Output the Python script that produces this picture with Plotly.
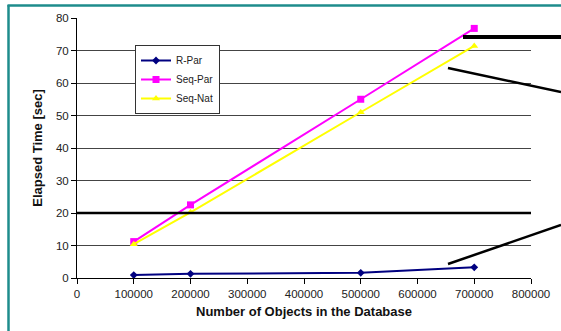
import plotly.graph_objects as go

objects = [100000, 200000, 500000, 700000]
r_par = [0.9, 1.3, 1.6, 3.3]
seq_par = [11.2, 22.5, 55.0, 76.8]
seq_nat = [10.4, 20.2, 51.0, 71.4]

x_ticks = [0, 100000, 200000, 300000, 400000, 500000, 600000, 700000, 800000]
x_tick_labels = [str(v) for v in x_ticks]
y_ticks = [0, 10, 20, 30, 40, 50, 60, 70, 80]

W, H = 561, 331
L, R, T, B = 77, 30, 18, 53
PW, PH = W - L - R, H - T - B


def px(x):
    return (x - L) / PW


def py(y):
    return (H - B - y) / PH


fig = go.Figure()
fig.add_trace(go.Scatter(x=objects, y=r_par, name="R-Par", mode="lines+markers",
                         line=dict(color="#000080", width=2),
                         marker=dict(symbol="diamond", size=6, color="#000080")))
fig.add_trace(go.Scatter(x=objects, y=seq_par, name="Seq-Par", mode="lines+markers",
                         line=dict(color="#FF00FF", width=2),
                         marker=dict(symbol="square", size=7, color="#FF00FF")))
fig.add_trace(go.Scatter(x=objects, y=seq_nat, name="Seq-Nat", mode="lines+markers",
                         line=dict(color="#FFFF00", width=2),
                         marker=dict(symbol="triangle-up", size=7, color="#FFFF00")))

shapes = []
# thick line at y=20
shapes.append(dict(type="line", xref="paper", yref="y", x0=0, x1=1, y0=20, y1=20,
                   line=dict(color="black", width=2.5), layer="above"))
# callout lines
shapes.append(dict(type="line", xref="paper", yref="paper", x0=px(463), x1=px(561),
                   y0=py(37), y1=py(37), line=dict(color="black", width=4)))
shapes.append(dict(type="line", xref="paper", yref="paper", x0=px(448), x1=px(561),
                   y0=py(68), y1=py(92), line=dict(color="black", width=2.5)))
shapes.append(dict(type="line", xref="paper", yref="paper", x0=px(448), x1=px(561),
                   y0=py(264), y1=py(225), line=dict(color="black", width=2.5)))
# teal frame
shapes.append(dict(type="line", xref="paper", yref="paper", x0=px(8.5), x1=px(8.5),
                   y0=py(335), y1=py(5), line=dict(color="#1E8C8C", width=2.5)))
shapes.append(dict(type="line", xref="paper", yref="paper", x0=px(7.5), x1=px(565),
                   y0=py(5.5), y1=py(5.5), line=dict(color="#1E8C8C", width=2.5)))

fig.update_layout(
    width=W, height=H,
    margin=dict(l=L, r=R, t=T, b=B),
    paper_bgcolor="white", plot_bgcolor="white",
    font=dict(family="Liberation Sans, Arial, sans-serif", color="#222", size=11),
    showlegend=True,
    legend=dict(x=px(135), y=py(45), xanchor="left", yanchor="top",
                bordercolor="#333", borderwidth=1, bgcolor="white",
                font=dict(size=10, color="#222"), itemwidth=30,
                tracegroupgap=0),
    shapes=shapes,
    xaxis=dict(range=[0, 800000], tickvals=x_ticks, ticktext=x_tick_labels,
               showgrid=False, zeroline=False, showline=True, linecolor="black",
               linewidth=1, ticks="outside", ticklen=5, tickcolor="black",
               tickfont=dict(size=11.5),
               title=dict(text="<b>Number of Objects in the Database</b>",
                          font=dict(size=13, color="#111"), standoff=8)),
    yaxis=dict(range=[0, 80], tickvals=y_ticks, showgrid=True, gridcolor="#444",
               gridwidth=1, zeroline=False, showline=True, linecolor="black",
               linewidth=1, ticks="outside", ticklen=5, tickcolor="black",
               tickfont=dict(size=11.5),
               title=dict(text="<b>Elapsed Time [sec]</b>",
                          font=dict(size=13, color="#111"), standoff=10)),
)

fig.write_html("out.html", config={"displayModeBar": False},
               post_script="document.body.style.margin='0';")
